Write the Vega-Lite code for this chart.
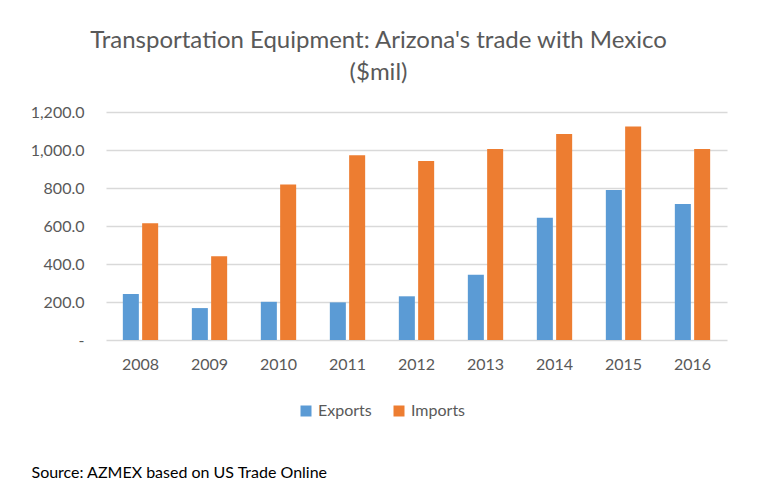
{
  "$schema": "https://vega.github.io/schema/vega-lite/v6.json",
  "width": 621,
  "height": 228,
  "autosize": {"type": "none"},
  "padding": {"left": 106, "top": 112, "right": 33, "bottom": 147},
  "background": "white",
  "title": {
    "text": ["Transportation Equipment: Arizona's trade with Mexico", "($mil)"],
    "font": "Lato",
    "fontSize": 24,
    "fontWeight": "normal",
    "color": "#595959",
    "lineHeight": 32,
    "offset": 19,
    "dx": -38,
    "anchor": "middle"
  },
  "data": {
    "values": [
      {"year": "2008", "flow": "Exports", "value": 242},
      {"year": "2008", "flow": "Imports", "value": 615},
      {"year": "2009", "flow": "Exports", "value": 168},
      {"year": "2009", "flow": "Imports", "value": 441},
      {"year": "2010", "flow": "Exports", "value": 201},
      {"year": "2010", "flow": "Imports", "value": 818},
      {"year": "2011", "flow": "Exports", "value": 198},
      {"year": "2011", "flow": "Imports", "value": 972},
      {"year": "2012", "flow": "Exports", "value": 230},
      {"year": "2012", "flow": "Imports", "value": 942},
      {"year": "2013", "flow": "Exports", "value": 343},
      {"year": "2013", "flow": "Imports", "value": 1005},
      {"year": "2014", "flow": "Exports", "value": 643},
      {"year": "2014", "flow": "Imports", "value": 1084},
      {"year": "2015", "flow": "Exports", "value": 790},
      {"year": "2015", "flow": "Imports", "value": 1124},
      {"year": "2016", "flow": "Exports", "value": 716},
      {"year": "2016", "flow": "Imports", "value": 1005}
    ]
  },
  "mark": {"type": "bar"},
  "encoding": {
    "x": {
      "field": "year",
      "type": "nominal",
      "scale": {"paddingInner": 0.488, "paddingOuter": 0.244},
      "axis": {
        "title": "Source: AZMEX based on US Trade Online",
        "titleFont": "Lato",
        "titleFontSize": 16,
        "titleFontWeight": "normal",
        "titleColor": "#000000",
        "titleAlign": "left",
        "titleBaseline": "middle",
        "titleX": -75,
        "titleY": 132,
        "labelAngle": 0,
        "labelFont": "Lato",
        "labelFontSize": 16,
        "labelColor": "#595959",
        "labelPadding": 16,
        "ticks": false,
        "domain": false
      }
    },
    "xOffset": {
      "field": "flow",
      "type": "nominal",
      "scale": {"paddingInner": 0.17, "paddingOuter": 0}
    },
    "y": {
      "field": "value",
      "type": "quantitative",
      "scale": {"domain": [0, 1200], "nice": false},
      "axis": {
        "title": null,
        "values": [0, 200, 400, 600, 800, 1000, 1200],
        "labelExpr": "datum.value === 0 ? '-\u00a0\u00a0' : format(datum.value, ',.1f')",
        "labelFont": "Lato",
        "labelFontSize": 16,
        "labelColor": "#595959",
        "labelPadding": 22,
        "ticks": false,
        "domain": false,
        "grid": true,
        "gridColor": "#D9D9D9",
        "gridWidth": 1.5
      }
    },
    "color": {
      "field": "flow",
      "type": "nominal",
      "scale": {"domain": ["Exports", "Imports"], "range": ["#5B9BD5", "#ED7D31"]},
      "legend": {
        "title": null,
        "orient": "none",
        "direction": "horizontal",
        "legendX": 192,
        "legendY": 291,
        "symbolType": "square",
        "symbolSize": 121,
        "symbolStrokeWidth": 0,
        "labelFont": "Lato",
        "labelFontSize": 16,
        "labelColor": "#595959",
        "labelOffset": 4,
        "columnPadding": 19
      }
    }
  },
  "config": {
    "view": {"stroke": null}
  }
}
